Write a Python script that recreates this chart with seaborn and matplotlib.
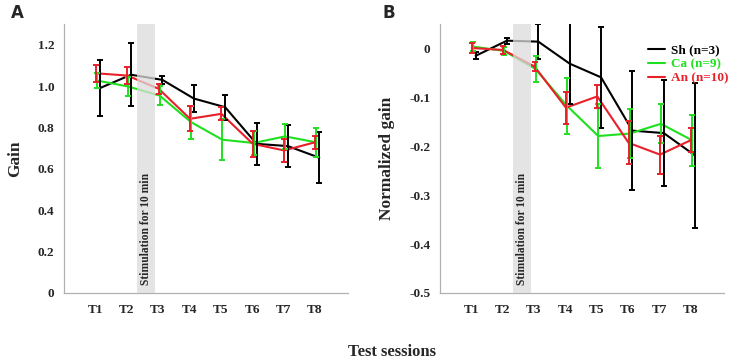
import numpy as np
import pandas as pd
import matplotlib
matplotlib.use("Agg")
import matplotlib.pyplot as plt
import seaborn as sns

sessions = ["T1", "T2", "T3", "T4", "T5", "T6", "T7", "T8"]
groups = ["Sh (n=3)", "Ca (n=9)", "An (n=10)"]

# panel A: gain
gain_sh = [0.99, 1.055, 1.03, 0.94, 0.898, 0.721, 0.71, 0.654]
gain_sh_err = [0.135, 0.152, 0.019, 0.065, 0.06, 0.102, 0.1, 0.124]
gain_ca = [1.027, 0.998, 0.954, 0.826, 0.741, 0.725, 0.757, 0.728]
gain_ca_err = [0.037, 0.045, 0.045, 0.08, 0.099, 0.06, 0.06, 0.07]
gain_an = [1.062, 1.051, 0.987, 0.842, 0.866, 0.721, 0.689, 0.729]
gain_an_err = [0.04, 0.04, 0.025, 0.061, 0.032, 0.062, 0.054, 0.032]

# panel B: normalized gain
norm_sh = [-0.015, 0.016, 0.014, -0.031, -0.059, -0.168, -0.173, -0.219]
norm_sh_err = [0.007, 0.006, 0.036, 0.083, 0.103, 0.122, 0.109, 0.148]
norm_ca = [0.004, -0.005, -0.042, -0.117, -0.179, -0.174, -0.154, -0.188]
norm_ca_err = [0.01, 0.008, 0.027, 0.057, 0.066, 0.05, 0.04, 0.053]
norm_an = [0.001, -0.003, -0.037, -0.121, -0.098, -0.193, -0.217, -0.187]
norm_an_err = [0.01, 0.008, 0.009, 0.033, 0.023, 0.044, 0.039, 0.025]

colors = {"Sh (n=3)": "black", "Ca (n=9)": "#1fe01f", "An (n=10)": "#e8202a"}
shift = {"Sh (n=3)": 0.14, "Ca (n=9)": 0.05, "An (n=10)": 0.02}

sns.set_style("white")
plt.rcParams["font.family"] = ["Liberation Serif", "DejaVu Serif"]


def make_df(vals, errs):
    rows = []
    for g, v, e in zip(groups, vals, errs):
        for i, s in enumerate(sessions):
            rows.append({"group": g, "x": i + 1 + shift[g], "value": v[i], "err": e[i]})
    return pd.DataFrame(rows)


def draw(ax, df, ylim, yticks, yticklabels, ylabel, legend):
    sns.lineplot(data=df, x="x", y="value", hue="group", hue_order=groups,
                 palette=colors, linewidth=1.5, ax=ax, legend=legend, zorder=2)
    for g in groups:
        d = df[df["group"] == g]
        ax.errorbar(d["x"], d["value"], yerr=d["err"], fmt="none",
                    ecolor=colors[g], elinewidth=1.4, capsize=2, capthick=1.4, zorder=2)
    ax.axvspan(2.32, 2.9, color="#dcdcdc", alpha=0.75, lw=0, zorder=3)
    ax.text(2.61, ylim[0] + 0.03 * (ylim[1] - ylim[0]), "Stimulation for 10 min",
            rotation=90, ha="center", va="bottom", fontsize=8.3, fontweight="bold", zorder=4)
    ax.set_xlim(0, 9.05)
    ax.set_ylim(*ylim)
    ax.set_xticks(range(1, 9))
    ax.set_xticklabels(sessions, fontweight="bold", fontsize=9.5)
    ax.set_yticks(yticks)
    ax.set_yticklabels(yticklabels, fontweight="bold", fontsize=9.5)
    ax.tick_params(axis="y", length=0, pad=7)
    ax.tick_params(axis="x", length=0, pad=8)
    ax.set_xlabel("")
    ax.set_ylabel(ylabel, fontsize=12.5, fontweight="bold", labelpad=10)
    sns.despine(ax=ax)
    for sp in ("left", "bottom"):
        ax.spines[sp].set_color("#b0b0b0")
        ax.spines[sp].set_linewidth(0.9)


fig = plt.figure(figsize=(7.43, 3.61), dpi=100)
ax_a = fig.add_axes([0.0861, 0.1884, 0.382, 0.745])
ax_b = fig.add_axes([0.592, 0.1884, 0.382, 0.745])

draw(ax_a, make_df([gain_sh, gain_ca, gain_an], [gain_sh_err, gain_ca_err, gain_an_err]),
     (0, 1.3), [0, 0.2, 0.4, 0.6, 0.8, 1.0, 1.2], ["0", "0.2", "0.4", "0.6", "0.8", "1.0", "1.2"],
     "Gain", False)
draw(ax_b, make_df([norm_sh, norm_ca, norm_an], [norm_sh_err, norm_ca_err, norm_an_err]),
     (-0.5, 0.05), [-0.5, -0.4, -0.3, -0.2, -0.1, 0], ["-0.5", "-0.4", "-0.3", "-0.2", "-0.1", "0"],
     "Normalized gain", True)

leg = ax_b.legend(loc="upper right", bbox_to_anchor=(1.06, 0.97), frameon=False,
                  handlelength=1.3, handletextpad=0.5, labelspacing=0.15,
                  prop={"weight": "bold", "size": 9.5})
for txt, g in zip(leg.get_texts(), groups):
    txt.set_color(colors[g])

fig.text(0.015, 0.965, "A", fontsize=12, fontweight="bold", family="DejaVu Sans", va="center")
fig.text(0.515, 0.965, "B", fontsize=12, fontweight="bold", family="DejaVu Sans", va="center")
fig.text(0.527, 0.025, "Test sessions", fontsize=12, fontweight="bold", ha="center", va="center")

fig.savefig("out.png", dpi=100)
